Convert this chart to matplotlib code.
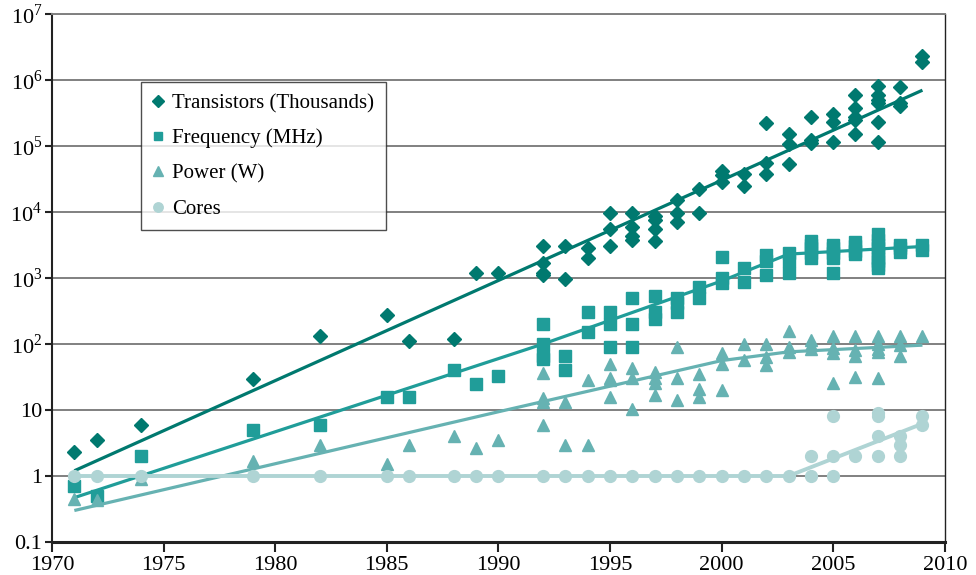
import numpy as np
import matplotlib.pyplot as plt
from matplotlib.lines import Line2D

plt.rcParams['font.family'] = ['Liberation Serif', 'DejaVu Serif']
plt.rcParams['mathtext.fontset'] = 'custom'
plt.rcParams['mathtext.rm'] = 'Liberation Serif'

# Transistors (thousands)
trans_years = [1971, 1972, 1974, 1979, 1982, 1985, 1986, 1988, 1989, 1990,
               1992, 1992, 1992, 1992, 1993, 1993, 1994, 1994,
               1995, 1995, 1995, 1996, 1996, 1996, 1996,
               1997, 1997, 1997, 1997, 1998, 1998, 1998, 1999, 1999,
               2000, 2000, 2000, 2001, 2001, 2002, 2002, 2002,
               2003, 2003, 2003, 2004, 2004, 2004, 2005, 2005, 2005,
               2006, 2006, 2006, 2006, 2006,
               2007, 2007, 2007, 2007, 2007, 2007,
               2008, 2008, 2008, 2009, 2009]
trans_vals = [2.3, 3.5, 6, 29, 134, 275, 110, 120, 1200, 1200,
              3100, 1700, 1200, 1100, 3100, 950, 2800, 2000,
              9700, 5500, 3100, 9700, 6000, 4300, 3700,
              8800, 7500, 5500, 3600, 15000, 9700, 7000, 22000, 9700,
              42000, 36000, 28000, 37000, 25000, 220000, 55000, 38000,
              150000, 107000, 53000, 275000, 125000, 110000, 300000, 230000, 115000,
              590000, 380000, 275000, 250000, 150000,
              800000, 590000, 500000, 450000, 230000, 115000,
              780000, 450000, 400000, 2300000, 1900000]

# Frequency (MHz)
freq_years = [1971, 1972, 1974, 1979, 1982, 1985, 1986, 1988, 1989, 1990,
              1992, 1992, 1992, 1992, 1993, 1993, 1994, 1994,
              1995, 1995, 1995, 1996, 1996, 1996, 1997, 1997, 1997,
              1998, 1998, 1998, 1999, 1999, 2000, 2000, 2000, 2001, 2001,
              2002, 2002, 2002, 2003, 2003, 2003,
              2004, 2004, 2004, 2004, 2004, 2005, 2005, 2005, 2005, 2005,
              2006, 2006, 2006, 2006,
              2007, 2007, 2007, 2007, 2007, 2007, 2007, 2007, 2007,
              2008, 2008, 2008, 2009, 2009]
freq_vals = [0.7, 0.5, 2, 5, 6, 16, 16, 40, 25, 33,
             200, 100, 66, 60, 66, 40, 300, 150,
             300, 200, 90, 500, 200, 90, 540, 300, 240,
             500, 420, 300, 730, 500, 2100, 1000, 830, 1400, 870,
             2200, 1800, 1100, 2400, 1800, 1200,
             3600, 3200, 2800, 2400, 2000, 3200, 2800, 2400, 2000, 1200,
             3500, 3000, 2600, 2300,
             4700, 3800, 3200, 2800, 2400, 2000, 1800, 1600, 1400,
             3200, 2800, 2500, 3200, 2700]

# Power (W)
power_years = [1971, 1972, 1974, 1979, 1982, 1985, 1986, 1988, 1989, 1990,
               1992, 1992, 1992, 1992, 1993, 1993, 1994, 1994,
               1995, 1995, 1995, 1995, 1996, 1996, 1996,
               1997, 1997, 1997, 1997, 1998, 1998, 1998, 1999, 1999, 1999,
               2000, 2000, 2000, 2001, 2001, 2002, 2002, 2002,
               2003, 2003, 2003, 2004, 2004, 2004, 2005, 2005, 2005, 2005,
               2006, 2006, 2006, 2006, 2007, 2007, 2007, 2007, 2007,
               2008, 2008, 2008, 2009]
power_vals = [0.45, 0.43, 0.9, 1.7, 3, 1.5, 3, 4, 2.7, 3.5,
              36, 15, 13, 6, 13, 3, 28, 3,
              50, 31, 28, 16, 44, 30, 10.5,
              38, 31, 26, 17, 90, 30, 14, 35, 21, 16,
              72, 50, 20, 100, 57, 100, 63, 48,
              155, 90, 75, 115, 95, 85, 130, 88, 72, 26,
              130, 80, 65, 32, 130, 100, 85, 75, 31,
              130, 95, 65, 130]

# Cores
core_years = [1971, 1972, 1974, 1979, 1982, 1985, 1986, 1988, 1989, 1990,
              1992, 1993, 1994, 1995, 1996, 1997, 1998, 1999, 2000, 2001,
              2002, 2003, 2004, 2004, 2005, 2005, 2005, 2006,
              2007, 2007, 2007, 2007, 2008, 2008, 2008, 2009, 2009]
core_vals = [1, 1, 1, 1, 1, 1, 1, 1, 1, 1,
             1, 1, 1, 1, 1, 1, 1, 1, 1, 1,
             1, 1, 2, 1, 8, 2, 1, 2,
             9, 8, 4, 2, 4, 3, 2, 8, 6]

# trend lines as drawn on the chart
trans_fit_years = [1971, 2009]
trans_fit_vals = [1.2, 700000]
freq_fit_years = [1971, 1992, 2000, 2003, 2009]
freq_fit_vals = [0.47, 100, 900, 2300, 3000]
power_fit_years = [1971, 1990, 2000, 2003, 2009]
power_fit_vals = [0.3, 9.4, 56, 76, 96]
core_fit_years = [1971, 2003, 2009]
core_fit_vals = [1, 1, 6.2]

labels = ['Transistors (Thousands)', 'Frequency (MHz)', 'Power (W)', 'Cores']
colors = ['#00796f', '#209d99', '#66b2b2', '#afd4d4']
markers = ['D', 's', '^', 'o']
msizes = [7.3, 8, 8.5, 8.5]

fig = plt.figure(figsize=(9.76, 5.75), dpi=100)
ax = fig.add_axes([0.0533, 0.0574, 0.9147, 0.9183])

ax.set_yscale('log')
ax.set_xlim(1970, 2010)
ax.set_ylim(0.1, 1e7)

fits = [(trans_fit_years, trans_fit_vals), (freq_fit_years, freq_fit_vals),
        (power_fit_years, power_fit_vals), (core_fit_years, core_fit_vals)]
pts = [(trans_years, trans_vals), (freq_years, freq_vals),
       (power_years, power_vals), (core_years, core_vals)]

# draw back to front so transistors sit on top
for i in [3, 2, 1, 0]:
    ax.plot(pts[i][0], pts[i][1], linestyle='none', marker=markers[i],
            ms=msizes[i], color=colors[i], mec=colors[i], zorder=3 + i * 0.1)
    ax.plot(fits[i][0], fits[i][1], color=colors[i], lw=2.3 if i < 3 else 2.8,
            zorder=3.05 + i * 0.1, solid_capstyle='butt')

# grid + spines
ax.yaxis.grid(True, color='#808080', lw=1.4)
ax.set_axisbelow(True)
ax.spines['top'].set_color('#808080')
ax.spines['top'].set_linewidth(1.4)
ax.spines['right'].set_color('#222222')
ax.spines['right'].set_linewidth(1.0)
ax.spines['left'].set_color('#222222')
ax.spines['left'].set_linewidth(1.5)
ax.spines['bottom'].set_color('#222222')
ax.spines['bottom'].set_linewidth(2.2)

ax.set_xticks(np.arange(1970, 2011, 5))
ytick_vals = [0.1, 1, 10, 1e2, 1e3, 1e4, 1e5, 1e6, 1e7]
ytick_labels = ['0.1', '1', '10', '$10^{2}$', '$10^{3}$', '$10^{4}$',
                '$10^{5}$', '$10^{6}$', '$10^{7}$']
ax.set_yticks(ytick_vals)
ax.set_yticklabels(ytick_labels)
ax.yaxis.set_minor_locator(plt.NullLocator())
ax.tick_params(axis='both', labelsize=16, colors='#222222', labelcolor='black',
               width=1.5, direction='out')
ax.tick_params(axis='x', length=7, pad=3)
ax.tick_params(axis='y', length=5, pad=2)

handles = [Line2D([], [], linestyle='none', marker=markers[i], color=colors[i],
                  ms=msizes[i] * 0.8) for i in range(4)]
leg = ax.legend(handles, labels, loc='upper left', bbox_to_anchor=(0.0997, 0.871),
                fontsize=15, frameon=True, fancybox=False, borderaxespad=0,
                handlelength=0.5, handletextpad=0.45, labelspacing=0.75,
                borderpad=0.55)
leg.get_frame().set_edgecolor('#222222')
leg.get_frame().set_linewidth(1.0)
leg.set_zorder(5)

fig.savefig('out.png', dpi=100)
